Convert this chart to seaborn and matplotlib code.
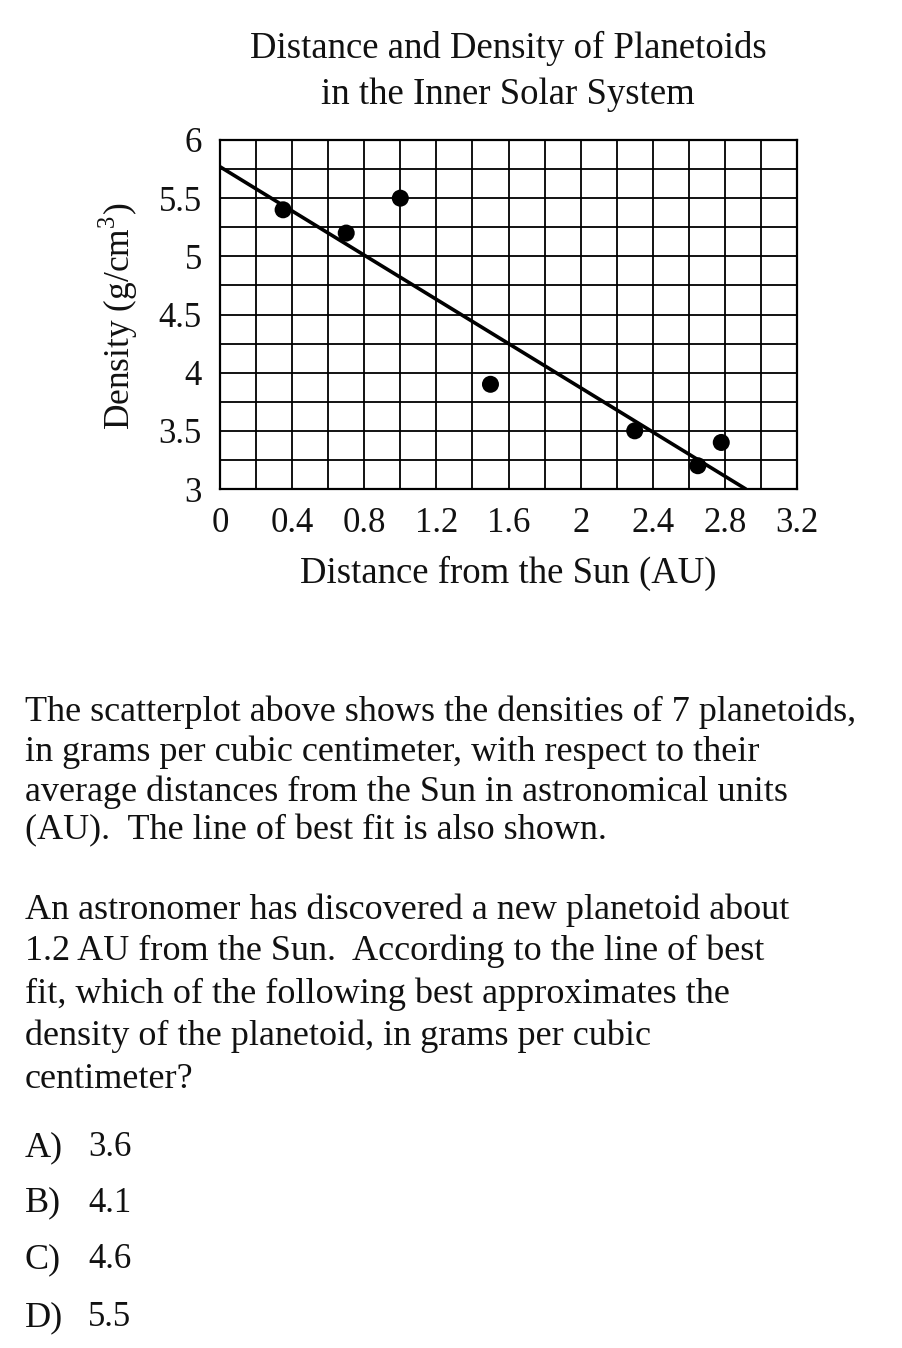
import numpy as np
import pandas as pd
import matplotlib.pyplot as plt
import seaborn as sns

# -------------------------------
# Data
# -------------------------------
distance_au = [0.35, 0.70, 1.00, 1.50, 2.30, 2.65, 2.78]
density = [5.40, 5.20, 5.50, 3.90, 3.50, 3.20, 3.40]
fit_intercept = 5.77
fit_slope = -0.95
x_ticks = [0, 0.4, 0.8, 1.2, 1.6, 2, 2.4, 2.8, 3.2]
y_ticks = [3, 3.5, 4, 4.5, 5, 5.5, 6]
choice_letters = ["A)", "B)", "C)", "D)"]
choice_values = ["3.6", "4.1", "4.6", "5.5"]

df = pd.DataFrame({"distance": distance_au, "density": density})

# best-fit line from x=0 to where it meets the bottom of the grid
x_end = (min(y_ticks) - fit_intercept) / fit_slope
fit_x = np.array([0.0, x_end])
fit_df = pd.DataFrame({"distance": fit_x, "density": fit_intercept + fit_slope * fit_x})

# -------------------------------
# Style
# -------------------------------
sns.set_style("white")
plt.rcParams['font.family'] = ['Liberation Serif', 'DejaVu Serif']
plt.rcParams['mathtext.fontset'] = 'custom'
plt.rcParams['mathtext.rm'] = 'Liberation Serif'

fig = plt.figure(figsize=(9.02, 13.48), dpi=100)
ax = fig.add_axes([220 / 902, 1 - 489 / 1348, 577 / 902, 349 / 1348])

# grid
for gx in np.arange(0, 3.21, 0.2):
    ax.axvline(gx, color="black", lw=1.3, zorder=0)
for gy in np.arange(3, 6.01, 0.25):
    ax.axhline(gy, color="black", lw=1.3, zorder=0)

sns.lineplot(data=fit_df, x="distance", y="density", color="black", lw=2.6, ax=ax, zorder=3)
sns.scatterplot(data=df, x="distance", y="density", color="black", s=150,
                edgecolor="none", ax=ax, zorder=4)

txt = "#111111"
ax.set_xlim(0, 3.2)
ax.set_ylim(3, 6)
ax.set_xticks(x_ticks)
ax.set_xticklabels([f"{t:g}" for t in x_ticks])
ax.set_yticks(y_ticks)
ax.set_yticklabels([f"{t:g}" for t in y_ticks])
ax.tick_params(axis="both", direction="out", length=10, width=1.6, color="black",
               labelsize=25, pad=3, labelcolor=txt)
for sp in ax.spines.values():
    sp.set_color("black")
    sp.set_linewidth(1.6)
ax.set_xlabel("")
ax.set_ylabel("")

# -------------------------------
# Text
# -------------------------------
fig.text(508 / 902, 1 - 48 / 1348, "Distance and Density of Planetoids",
         ha="center", va="center", fontsize=26.5, color=txt)
fig.text(508 / 902, 1 - 95 / 1348, "in the Inner Solar System",
         ha="center", va="center", fontsize=26.5, color=txt)
fig.text(508 / 902, 1 - 573 / 1348, "Distance from the Sun (AU)",
         ha="center", va="center", fontsize=26.5, color=txt)
fig.text(118 / 902, 1 - 316 / 1348, r"Density (g/cm$^3$)", rotation=90,
         ha="center", va="center", fontsize=25.5, color=txt)

para1 = ["The scatterplot above shows the densities of 7 planetoids,",
         "in grams per cubic centimeter, with respect to their",
         "average distances from the Sun in astronomical units",
         "(AU).  The line of best fit is also shown."]
para2 = ["An astronomer has discovered a new planetoid about",
         "1.2 AU from the Sun.  According to the line of best",
         "fit, which of the following best approximates the",
         "density of the planetoid, in grams per cubic",
         "centimeter?"]
for line, yc in zip(para1, [712, 752, 792, 831]):
    fig.text(25 / 902, 1 - yc / 1348, line, ha="left", va="center", fontsize=26, color=txt)
for line, yc in zip(para2, [910, 951, 994, 1036, 1079]):
    fig.text(25 / 902, 1 - yc / 1348, line, ha="left", va="center", fontsize=26, color=txt)

for letter, val, yc in zip(choice_letters, choice_values, [1148, 1203, 1260, 1318]):
    fig.text(25 / 902, 1 - yc / 1348, letter, ha="left", va="center", fontsize=26, color=txt)
    fig.text(88 / 902, 1 - yc / 1348, val, ha="left", va="center", fontsize=25, color=txt)

fig.savefig("out.png", dpi=100, facecolor="white")
